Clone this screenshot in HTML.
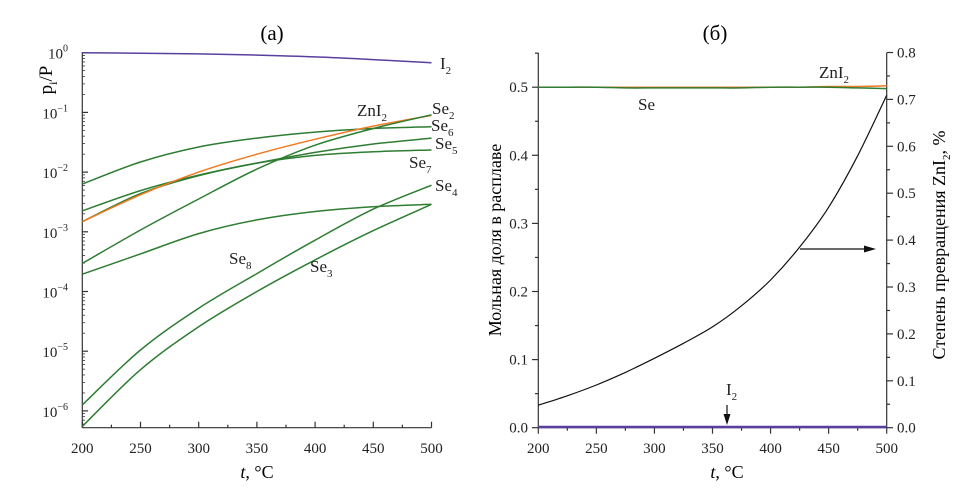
<!DOCTYPE html>
<html><head><meta charset="utf-8"><style>
html,body{margin:0;padding:0;background:#fff;}
svg{display:block;font-family:"Liberation Serif",serif;}
text{font-family:"Liberation Serif",serif;}
</style></head>
<body>
<svg id="fig" width="977" height="495" viewBox="0 0 977 495" xmlns="http://www.w3.org/2000/svg">
<rect width="977" height="495" fill="#fff"/>
<g id="gA"></g>
<g id="gB"></g>
</svg>
<script>
// ---- data chart (a): log10(p_i/P) at temperatures ----
const temps = [200, 250, 300, 350, 400, 450, 500];
const logI2 = [0, -0.008, -0.02, -0.04, -0.07, -0.115, -0.17];
const logZnI2 = [-2.83, -2.38, -2.0, -1.7, -1.45, -1.23, -1.05];
const logSe2 = [-3.53, -2.97, -2.45, -1.95, -1.55, -1.27, -1.04];
const logSe6 = [-2.2, -1.83, -1.58, -1.43, -1.33, -1.27, -1.24];
const logSe5 = [-2.65, -2.31, -2.05, -1.85, -1.67, -1.53, -1.43];
const logSe7 = [-2.83, -2.36, -2.06, -1.85, -1.72, -1.66, -1.63];
const logSe4 = [-5.9, -4.98, -4.28, -3.7, -3.14, -2.62, -2.22];
const logSe3 = [-6.26, -5.31, -4.59, -4.0, -3.47, -2.98, -2.54];
const logSe8 = [-3.71, -3.37, -3.03, -2.8, -2.66, -2.58, -2.54];
const xTicks = [200, 250, 300, 350, 400, 450, 500];
const logTicks = [0, -1, -2, -3, -4, -5, -6];
// ---- data chart (b) ----
const tempsB = [200, 225, 250, 275, 300, 325, 350, 375, 400, 425, 450, 475, 500];
const fracSe = [0.5, 0.5, 0.5, 0.499, 0.499, 0.499, 0.499, 0.499, 0.5, 0.5, 0.5, 0.499, 0.498];
const fracZnI2 = [0.5, 0.5, 0.5, 0.5, 0.5, 0.5, 0.5, 0.5, 0.5, 0.5, 0.501, 0.501, 0.502];
const fracI2 = [0.001, 0.001, 0.001, 0.001, 0.001, 0.001, 0.001, 0.001, 0.001, 0.001, 0.001, 0.001, 0.001];
const conversion = [0.048, 0.068, 0.091, 0.118, 0.148, 0.18, 0.215, 0.26, 0.315, 0.385, 0.47, 0.58, 0.709];
const leftTicksB = [0.0, 0.1, 0.2, 0.3, 0.4, 0.5];
const rightTicksB = [0.0, 0.1, 0.2, 0.3, 0.4, 0.5, 0.6, 0.7, 0.8];

const NS = "http://www.w3.org/2000/svg";
function mk(parent, tag, attrs, text) {
  const e = document.createElementNS(NS, tag);
  for (const k in attrs) e.setAttribute(k, attrs[k]);
  if (text !== undefined) e.textContent = text;
  parent.appendChild(e);
  return e;
}
function smooth(pts) {
  let d = "M" + pts[0][0].toFixed(1) + "," + pts[0][1].toFixed(1);
  for (let i = 0; i < pts.length - 1; i++) {
    const p0 = pts[Math.max(0, i - 1)], p1 = pts[i], p2 = pts[i + 1], p3 = pts[Math.min(pts.length - 1, i + 2)];
    const c1 = [p1[0] + (p2[0] - p0[0]) / 6, p1[1] + (p2[1] - p0[1]) / 6];
    const c2 = [p2[0] - (p3[0] - p1[0]) / 6, p2[1] - (p3[1] - p1[1]) / 6];
    d += " C" + c1.map(v => v.toFixed(1)) + " " + c2.map(v => v.toFixed(1)) + " " + p2.map(v => v.toFixed(1));
  }
  return d;
}

// ===== Chart A =====
const gA = document.getElementById("gA");
const xA = t => 82.3 + (t - 200) / 300 * (431.5 - 82.3);
const yA = l => 52.7 - l * 59.7;
const botA = 427.7;
mk(gA, "text", {x: 272, y: 40, "font-size": 21, "text-anchor": "middle",  }, "(a)");
const axA = mk(gA, "g", {stroke: "#333", "stroke-width": 1.2, fill: "none"});


mk(axA, "line", {x1: 82.3, y1: 52, x2: 82.3, y2: botA});
mk(axA, "line", {x1: 82.3, y1: botA, x2: 431.5, y2: botA});
xTicks.forEach(t => {
  mk(axA, "line", {x1: xA(t), y1: botA, x2: xA(t), y2: botA - 6});
  if (t < 500) mk(axA, "line", {x1: xA(t + 25), y1: botA, x2: xA(t + 25), y2: botA - 3});
  const tl = mk(gA, "text", {x: xA(t), y: 453, "font-size": 15, "text-anchor": "middle", fill: "#222"}, t);
  
  
});
logTicks.forEach(l => {
  mk(axA, "line", {x1: 82.3, y1: yA(l), x2: 88, y2: yA(l)});
  for (let m = 2; m <= 9; m++) {
    const yy = yA(l - 1 + Math.log10(m));
    if (yy <= botA) mk(axA, "line", {x1: 82.3, y1: yy, x2: 85, y2: yy, "stroke-width": 0.8});
  }
  const tl = mk(gA, "text", {x: 68, y: yA(l) + 6, "font-size": 15, "text-anchor": "end", fill: "#222"}, "10");
  
  
  mk(tl, "tspan", {dy: -7, "font-size": 10}, l === 0 ? "0" : "−" + (-l));
});
const xtA = mk(gA, "text", {x: 257, y: 478, "font-size": 18, "text-anchor": "middle",  });
mk(xtA, "tspan", {"font-style": "italic"}, "t");
mk(xtA, "tspan", {}, ", °C");
const ytA = mk(gA, "text", {transform: "translate(52,80) rotate(-90)", "font-size": 19, "text-anchor": "middle",  }, "p");
mk(ytA, "tspan", {dy: 5, "font-size": 12}, "i");
mk(ytA, "tspan", {dy: -5}, "/P");

const seriesA = [
  ["series-i2", logI2, "#5b3fa0"],
  ["series-se6", logSe6, "#2e7d32"],
  ["series-se5", logSe5, "#2e7d32"],
  ["series-se7", logSe7, "#2e7d32"],
  ["series-znI2", logZnI2, "#f07a20"],
  ["series-se2", logSe2, "#2e7d32"],
  ["series-se8", logSe8, "#2e7d32"],
  ["series-se4", logSe4, "#2e7d32"],
  ["series-se3", logSe3, "#2e7d32"]
];
seriesA.forEach(s => {
  const p = mk(gA, "path", {d: smooth(temps.map((t, i) => [xA(t), yA(s[1][i])])), fill: "none", stroke: s[2], "stroke-width": 1.5});
  
  
});
function lab(g, x, y, main, sub, name) {
  const t = mk(g, "text", {x: x, y: y, "font-size": 17, fill: "#222"}, main);
  
  
  if (sub) mk(t, "tspan", {dy: 5, "font-size": 11}, sub);
  return t;
}
lab(gA, 440, 69, "I", "2", "label-i2");
lab(gA, 357, 116, "ZnI", "2", "label-zni2");
lab(gA, 432, 114, "Se", "2", "label-se2");
lab(gA, 431, 131, "Se", "6", "label-se6");
lab(gA, 435, 149, "Se", "5", "label-se5");
lab(gA, 409, 168, "Se", "7", "label-se7");
lab(gA, 435, 191, "Se", "4", "label-se4");
lab(gA, 229, 264, "Se", "8", "label-se8");
lab(gA, 310, 272, "Se", "3", "label-se3");

// ===== Chart B =====
const gB = document.getElementById("gB");
const xB = t => 538.3 + (t - 200) / 300 * (886.7 - 538.3);
const yL = v => 427.7 - v * 681;
const yR = v => 427.7 - v * 469;
const botB = 427.7;
mk(gB, "text", {x: 715, y: 40, "font-size": 21, "text-anchor": "middle",  }, "(б)");
const axB = mk(gB, "g", {stroke: "#333", "stroke-width": 1.2, fill: "none"});


mk(axB, "line", {x1: 538.3, y1: 52.7, x2: 538.3, y2: botB});
mk(axB, "line", {x1: 886.7, y1: 52.7, x2: 886.7, y2: botB});
mk(axB, "line", {x1: 538.3, y1: botB, x2: 886.7, y2: botB});
xTicks.forEach(t => {
  mk(axB, "line", {x1: xB(t), y1: botB, x2: xB(t), y2: botB + 6});
  if (t < 500) mk(axB, "line", {x1: xB(t + 25), y1: botB, x2: xB(t + 25), y2: botB + 3});
  const tl = mk(gB, "text", {x: xB(t), y: 453, "font-size": 15, "text-anchor": "middle", fill: "#222"}, t);
  
  
});
leftTicksB.forEach(v => {
  mk(axB, "line", {x1: 538.3, y1: yL(v), x2: 532, y2: yL(v)});
  mk(axB, "line", {x1: 538.3, y1: yL(v + 0.05), x2: 535, y2: yL(v + 0.05)});
  const tl = mk(gB, "text", {x: 528, y: yL(v) + 5, "font-size": 15, "text-anchor": "end", fill: "#222"}, v.toFixed(1));
  
  
});
rightTicksB.forEach(v => {
  mk(axB, "line", {x1: 886.7, y1: yR(v), x2: 893, y2: yR(v)});
  if (v < 0.8) mk(axB, "line", {x1: 886.7, y1: yR(v + 0.05), x2: 890, y2: yR(v + 0.05)});
  const tl = mk(gB, "text", {x: 897, y: yR(v) + 5, "font-size": 15, fill: "#222"}, v.toFixed(1));
  
  
});
const xtB = mk(gB, "text", {x: 727, y: 478, "font-size": 18, "text-anchor": "middle",  });
mk(xtB, "tspan", {"font-style": "italic"}, "t");
mk(xtB, "tspan", {}, ", °C");
mk(gB, "text", {transform: "translate(501,240) rotate(-90)", "font-size": 18, "text-anchor": "middle",  }, "Мольная доля в расплаве");
const ytR = mk(gB, "text", {transform: "translate(945,245) rotate(-90)", "font-size": 18, "text-anchor": "middle",  }, "Степень превращения  ZnI");
mk(ytR, "tspan", {dy: 5, "font-size": 11}, "2");
mk(ytR, "tspan", {dy: -5}, ", %");

[["series-b-i2", fracI2, "#5b3fa0", yL, 2.5], ["series-b-zni2", fracZnI2, "#f07a20", yL, 1.5], ["series-b-se", fracSe, "#2e7d32", yL, 1.5], ["series-b-conversion", conversion, "#111", yR, 1.2]].forEach(s => {
  const p = mk(gB, "path", {d: smooth(tempsB.map((t, i) => [xB(t), s[3](s[1][i])])), fill: "none", stroke: s[2], "stroke-width": s[4]});
  
  
});
lab(gB, 819, 78, "ZnI", "2", "label-b-zni2");
lab(gB, 638, 110, "Se", "", "label-b-se");
lab(gB, 726, 395, "I", "2", "label-b-i2");
const ar = mk(gB, "g", {stroke: "#111", fill: "#111",  });
mk(ar, "line", {x1: 800, y1: 249, x2: 868, y2: 249, "stroke-width": 1.2});
mk(ar, "path", {d: "M876,249 L864,245.5 L864,252.5 Z", stroke: "none"});
const ar2 = mk(gB, "g", {stroke: "#111", fill: "#111",  });
mk(ar2, "line", {x1: 727, y1: 405, x2: 727, y2: 418, "stroke-width": 1.2});
mk(ar2, "path", {d: "M727,425 L723.5,414 L730.5,414 Z", stroke: "none"});
</script>
</body></html>
